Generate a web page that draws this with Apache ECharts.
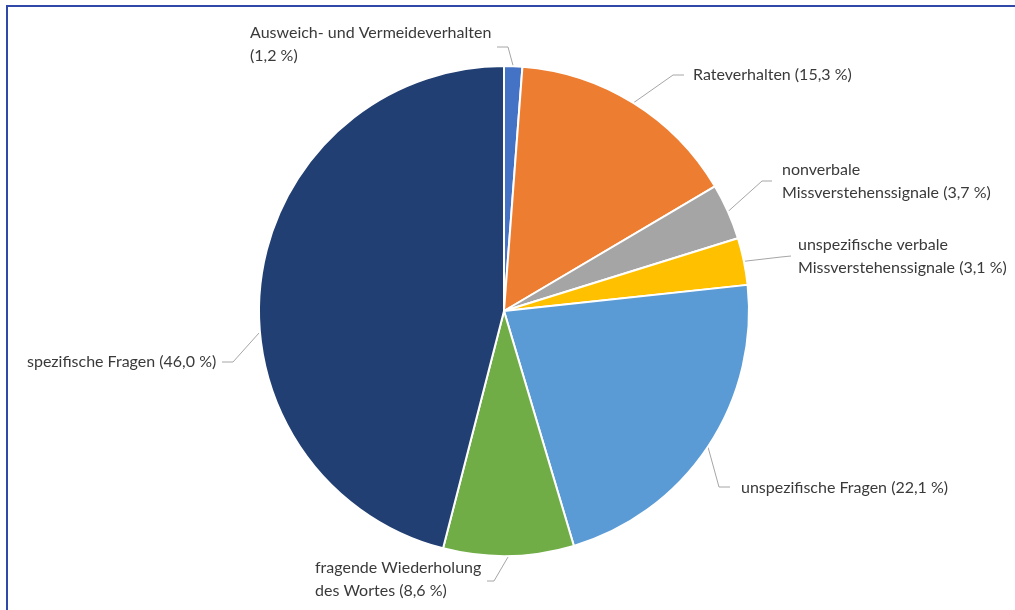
<!DOCTYPE html>
<html>
<head>
<meta charset="utf-8">
<script src="https://cdn.jsdelivr.net/npm/echarts@6/dist/echarts.min.js"></script>
<style>
  html, body { margin: 0; padding: 0; background: #ffffff; }
  #chart { width: 1015px; height: 610px; }
</style>
</head>
<body>
<div id="chart"></div>
<script>
// Categories (clockwise from 12 o'clock) and their shares in percent
const categories = [
  'Ausweich- und Vermeideverhalten',
  'Rateverhalten',
  'nonverbale\nMissverstehenssignale',
  'unspezifische verbale\nMissverstehenssignale',
  'unspezifische Fragen',
  'fragende Wiederholung\ndes Wortes',
  'spezifische Fragen'
];
const values = [1.2, 15.3, 3.7, 3.1, 22.1, 8.6, 46.0];
// Put the percentage on its own line for these categories
const valueOnNewLine = [true, false, false, false, false, false, false];

const sliceColors = ['#4472C4', '#ED7D31', '#A5A5A5', '#FFC000', '#5B9BD5', '#70AD47', '#213F73'];

// Label placement: text anchor (left, middle), elbow/end of each leader line,
// and an optional start point on the rim
const labelAnchors = [
  { x: 250, y: 44,  elbow: [508, 47],  end: [497, 47] },
  { x: 693, y: 75,  elbow: [673, 75],  end: [684, 75] },
  { x: 782, y: 181, elbow: [762, 181], end: [772, 181] },
  { x: 798, y: 256, elbow: [781, 257], end: [791, 256] },
  { x: 741, y: 488, elbow: [719, 487], end: [730, 487] },
  { x: 315, y: 579, elbow: [494, 581], end: [487, 581] },
  { x: 27,  y: 362, elbow: [233, 362], end: [222, 362], start: [259, 333] }
];

const fmt = v => v.toFixed(1).replace('.', ',');

const chart = echarts.init(document.getElementById('chart'), null, { renderer: 'canvas' });

chart.setOption({
  backgroundColor: '#ffffff',
  animation: false,
  graphic: [
    { type: 'line', shape: { x1: 7, y1: 6, x2: 1015, y2: 6 }, style: { stroke: '#3049A8', lineWidth: 2 } },
    { type: 'line', shape: { x1: 7, y1: 5, x2: 7, y2: 610 }, style: { stroke: '#3049A8', lineWidth: 2 } }
  ],
  series: [{
    type: 'pie',
    center: [504, 311],
    radius: 245,
    startAngle: 90,
    clockwise: true,
    avoidLabelOverlap: false,
    itemStyle: { borderColor: '#ffffff', borderWidth: 2 },
    label: {
      show: true,
      position: 'outside',
      color: '#3a3a3a',
      fontFamily: 'Lato',
      fontSize: 16,
      lineHeight: 23,
      align: 'left',
      formatter: p => p.name + (valueOnNewLine[p.dataIndex] ? '\n' : ' ') + '(' + fmt(p.value) + ' %)'
    },
    labelLine: {
      show: true,
      length: 10,
      length2: 10,
      lineStyle: { color: '#A6A6A6', width: 1 }
    },
    labelLayout: function (params) {
      const a = labelAnchors[params.dataIndex];
      const pts = params.labelLinePoints;
      const start = a.start || (pts ? pts[0] : a.elbow);
      return {
        x: a.x,
        y: a.y,
        align: 'left',
        verticalAlign: 'middle',
        labelLinePoints: [start, a.elbow, a.end]
      };
    },
    data: categories.map((c, i) => ({
      name: c,
      value: values[i],
      itemStyle: { color: sliceColors[i] }
    }))
  }]
});
</script>
</body>
</html>
